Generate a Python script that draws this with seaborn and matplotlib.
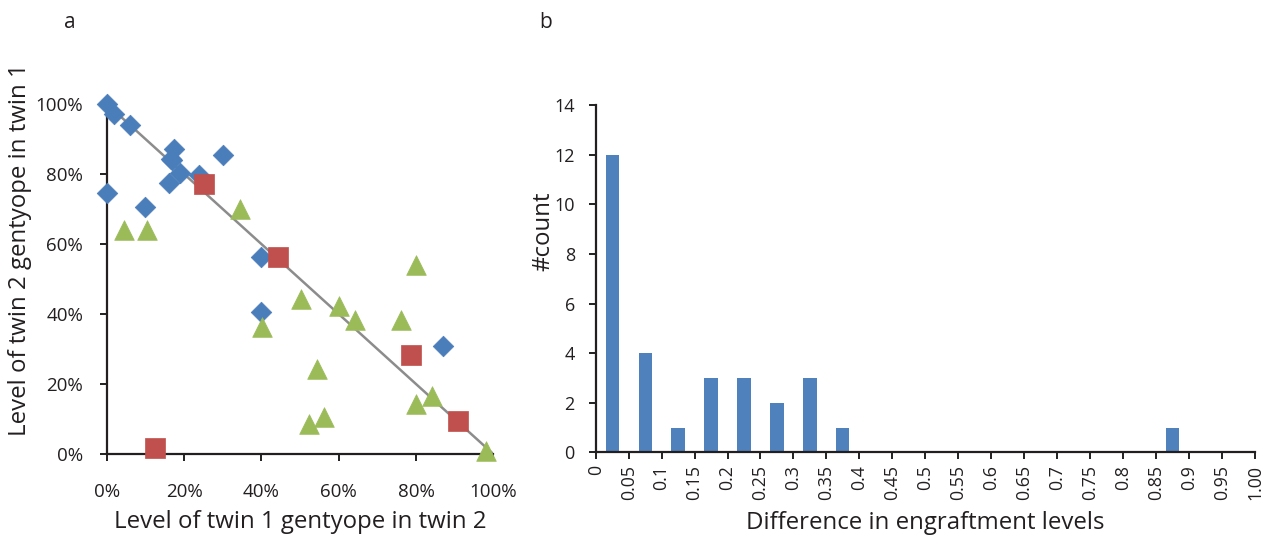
import matplotlib
matplotlib.use("Agg")
import matplotlib.pyplot as plt
import seaborn as sns
import pandas as pd
from matplotlib.ticker import PercentFormatter

sns.set_theme(style="white")
plt.rcParams['font.family'] = ['Open Sans', 'DejaVu Sans']

# panel a: engraftment levels (fractions)
blue_x = [0.00, 0.02, 0.06, 0.00, 0.10, 0.16, 0.165, 0.175, 0.17, 0.19, 0.24, 0.30, 0.40, 0.40, 0.87]
blue_y = [1.00, 0.97, 0.94, 0.745, 0.705, 0.773, 0.843, 0.872, 0.84, 0.803, 0.796, 0.853, 0.563, 0.406, 0.308]

green_x = [0.044, 0.105, 0.344, 0.402, 0.503, 0.602, 0.642, 0.543, 0.522, 0.562, 0.762, 0.801, 0.801, 0.841, 0.98]
green_y = [0.64, 0.64, 0.70, 0.364, 0.442, 0.423, 0.383, 0.244, 0.086, 0.107, 0.383, 0.541, 0.144, 0.166, 0.008]

red_x = [0.252, 0.442, 0.788, 0.908, 0.126]
red_y = [0.77, 0.563, 0.284, 0.095, 0.017]

line_x = [0.0, 1.0]
line_y = [1.0, 0.0]

# panel b: histogram of differences
bin_centers = [0.025 + 0.05 * i for i in range(20)]
counts = [12, 4, 1, 3, 3, 2, 3, 1, 0, 0, 0, 0, 0, 0, 0, 0, 0, 1, 0, 0]
tick_pos = [0.05 * i for i in range(21)]
tick_labels = ["0", "0.05", "0.1", "0.15", "0.2", "0.25", "0.3", "0.35", "0.4", "0.45",
               "0.5", "0.55", "0.6", "0.65", "0.7", "0.75", "0.8", "0.85", "0.9", "0.95", "1.00"]

ink = "#231f20"
fig = plt.figure(figsize=(12.72, 5.39), dpi=100)
ax1 = fig.add_axes([0.0839, 0.1577, 0.3039, 0.6494])
ax2 = fig.add_axes([0.4683, 0.1605, 0.5183, 0.6447])

ax1.plot(line_x, line_y, color="#8c8c8c", lw=1.8, zorder=1)
sns.scatterplot(x=blue_x, y=blue_y, marker="D", s=110, color="#4a7ebb", edgecolor="#4a7ebb",
                linewidth=0.5, ax=ax1, zorder=3, clip_on=False)
sns.scatterplot(x=green_x, y=green_y, marker="^", s=200, color="#9bbb59", edgecolor="#9bbb59",
                linewidth=0.5, ax=ax1, zorder=3, clip_on=False)
sns.scatterplot(x=red_x, y=red_y, marker="s", s=220, color="#c0504d", edgecolor="#c0504d",
                linewidth=0.5, ax=ax1, zorder=4, clip_on=False)

ax1.set_xlim(0, 1)
ax1.set_ylim(0, 1)
ax1.set_xticks([0, 0.2, 0.4, 0.6, 0.8, 1.0])
ax1.set_yticks([0, 0.2, 0.4, 0.6, 0.8, 1.0])
ax1.xaxis.set_major_formatter(PercentFormatter(1.0, decimals=0))
ax1.yaxis.set_major_formatter(PercentFormatter(1.0, decimals=0))
ax1.set_xlabel("Level of twin 1 gentyope in twin 2", fontsize=17.3, color=ink, va="center")
ax1.set_ylabel("Level of twin 2 gentyope in twin 1", fontsize=17.3, color=ink, va="center")
ax1.xaxis.set_label_coords(0.5, -0.194)
ax1.yaxis.set_label_coords(-0.224, 0.583)

df = pd.DataFrame({"bin": bin_centers, "count": counts})
sns.barplot(data=df, x="bin", y="count", native_scale=True, width=0.4, color="#4f81bd",
            saturation=1, linewidth=0, ax=ax2)
ax2.set_xlim(0, 1)
ax2.set_ylim(0, 14)
ax2.set_yticks(range(0, 15, 2))
ax2.set_xticks(tick_pos)
ax2.set_xticklabels(tick_labels, rotation=90)
ax2.set_xlabel("Difference in engraftment levels", fontsize=17.3, color=ink, va="center")
ax2.set_ylabel("#count", fontsize=17.3, color=ink, va="center")
ax2.xaxis.set_label_coords(0.5, -0.203)
ax2.yaxis.set_label_coords(-0.080, 0.637)

for ax in (ax1, ax2):
    sns.despine(ax=ax)
    for side in ("left", "bottom"):
        ax.spines[side].set_color(ink)
        ax.spines[side].set_linewidth(1.6)
    ax.tick_params(axis="both", which="major", direction="out", length=5, width=1.4,
                   color=ink, labelcolor=ink, bottom=True, left=True)

ax1.tick_params(axis="x", labelsize=13.5, pad=16)
ax1.tick_params(axis="y", labelsize=13.5, pad=12)
ax2.tick_params(axis="x", labelsize=12.8, pad=4)
ax2.tick_params(axis="y", labelsize=13, pad=10)

fig.text(0.055, 0.958, "a", fontsize=15, color=ink, ha="center", va="center")
fig.text(0.429, 0.958, "b", fontsize=15, color=ink, ha="center", va="center")

fig.savefig("out.png", dpi=100)
